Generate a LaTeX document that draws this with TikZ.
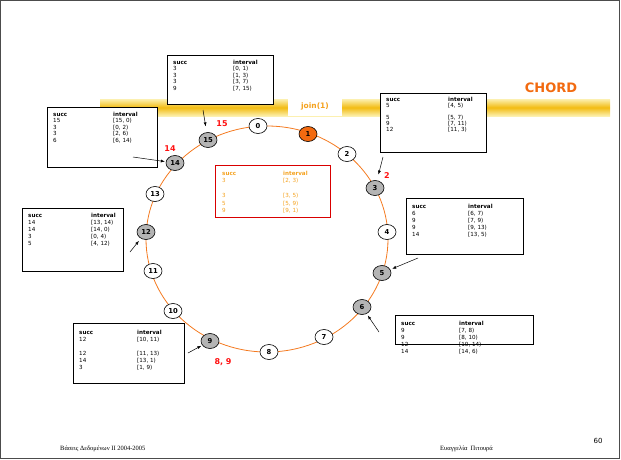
\documentclass[tikz,border=0pt]{standalone}
\usepackage{fontspec}
\setmainfont{Liberation Serif}
\newfontfamily\comic{DejaVu Sans}
\usetikzlibrary{arrows.meta, shapes.geometric}
\definecolor{cRing}{HTML}{F47A20}
\definecolor{cOrg}{HTML}{F26A10}
\definecolor{cAmb}{HTML}{F5A21E}
\definecolor{cRed}{HTML}{FF1010}
\definecolor{cGry}{HTML}{B4B4B4}
\definecolor{cYel}{HTML}{F2BC12}
\definecolor{cYelL}{HTML}{FCF0B0}
% finger table: column width, line height, rows
\newcommand{\ftab}[3]{{\comic\fontsize{5.6}{#2}\selectfont
  \begin{tabular}{@{}p{#1}@{}l@{}}\textbf{succ} & \textbf{interval}\\ #3\end{tabular}}}
\tikzset{
  slot/.style={ellipse, draw, line width=0.6pt, fill=white, minimum width=18pt,
               minimum height=15pt, inner sep=0pt, font=\comic\bfseries\fontsize{6.8}{7}\selectfont},
  live/.style={slot, fill=cGry},
  newbie/.style={slot, fill=cOrg},
  ftbox/.style={draw, line width=0.7pt, fill=white, inner sep=0pt, anchor=north west},
  ftxt/.style={inner sep=0pt, anchor=north west, align=left},
  ptr/.style={-{Latex[length=4pt,width=3pt]}, line width=0.5pt},
  rlab/.style={text=cRed, font=\comic\bfseries\fontsize{8}{9}\selectfont},
  foot/.style={font=\fontsize{6.5}{7}\selectfont, inner sep=0pt},
}

\begin{document}
\begin{tikzpicture}[x=1pt, y=-1pt]
  \useasboundingbox (0,0) rectangle (621,459);
  \draw[line width=0.6pt, black!70] (0.5,0.5) rectangle (619.5,458.5);

  % ---- title stripe
  \shade[top color=cYelL, bottom color=cYelL, middle color=cYel] (100,99) rectangle (610,116);
  \node[fill=white, text=cAmb, font=\comic\bfseries\fontsize{7.5}{8}\selectfont,
        minimum width=54pt, minimum height=20pt] (join) at (315,106) {join(1)};
  \node[text=cOrg, font=\comic\bfseries\fontsize{13}{14}\selectfont] (title) at (551,88) {CHORD};

  % ---- the ring
  \draw[cRing, line width=0.8pt] (267,239) ellipse [x radius=121, y radius=113];
  \node[slot]   (n0)  at (258,126) {0};
  \node[newbie] (n1)  at (308,134) {1};
  \node[slot]   (n2)  at (347,154) {2};
  \node[live]   (n3)  at (375,188) {3};
  \node[slot]   (n4)  at (387,232) {4};
  \node[live]   (n5)  at (382,273) {5};
  \node[live]   (n6)  at (362,307) {6};
  \node[slot]   (n7)  at (324,337) {7};
  \node[slot]   (n8)  at (269,352) {8};
  \node[live]   (n9)  at (210,341) {9};
  \node[slot]   (n10) at (173,311) {10};
  \node[slot]   (n11) at (153,271) {11};
  \node[live]   (n12) at (146,232) {12};
  \node[slot]   (n13) at (155,194) {13};
  \node[live]   (n14) at (175,163) {14};
  \node[live]   (n15) at (208,140) {15};

  \node[rlab] (l15) at (222,124) {15};
  \node[rlab] (l14) at (170,149) {14};
  \node[rlab] (l2)  at (387,176) {2};
  \node[rlab] (l89) at (223,362) {8, 9};

  % ---- finger tables
  \node[ftbox, minimum width=106pt, minimum height=49pt] (bA) at (167,55) {};
  \node[ftxt] (tA) at ([shift={(6pt,-4.5pt)}]bA.north west)
       {\ftab{60pt}{6.5}{3 & [0, 1)\\ 3 & [1, 3)\\ 3 & [3, 7)\\ 9 & [7, 15)}};

  \node[ftbox, minimum width=106pt, minimum height=59pt] (bB) at (380,93) {};
  \node[ftxt] (tB) at ([shift={(6pt,-4pt)}]bB.north west)
       {\ftab{62pt}{5.8}{5 & [4, 5)\\ & \\ 5 & [5, 7)\\ 9 & [7, 11)\\ 12 & [11, 3)}};

  \node[ftbox, minimum width=110pt, minimum height=60pt] (bC) at (47,107) {};
  \node[ftxt] (tC) at ([shift={(6pt,-4.5pt)}]bC.north west)
       {\ftab{60pt}{6.5}{15 & [15, 0)\\ 3 & [0, 2)\\ 3 & [2, 6)\\ 6 & [6, 14)}};

  \node[ftbox, draw=red!85!black, line width=0.9pt, minimum width=115pt, minimum height=52pt] (bD) at (215,165) {};
  \node[ftxt, text=cAmb] (tD) at ([shift={(7pt,-5pt)}]bD.north west)
       {\ftab{61pt}{7.5}{3 & [2, 3)\\ & \\ 3 & [3, 5)\\ 5 & [5, 9)\\ 9 & [9, 1)}};

  \node[ftbox, minimum width=101pt, minimum height=63pt] (bE) at (22,208) {};
  \node[ftxt] (tE) at ([shift={(6pt,-4pt)}]bE.north west)
       {\ftab{63pt}{7}{14 & [13, 14)\\ 14 & [14, 0)\\ 3 & [0, 4)\\ 5 & [4, 12)}};

  \node[ftbox, minimum width=117pt, minimum height=56pt] (bF) at (406,198) {};
  \node[ftxt] (tF) at ([shift={(6pt,-5pt)}]bF.north west)
       {\ftab{56pt}{7}{6 & [6, 7)\\ 9 & [7, 9)\\ 9 & [9, 13)\\ 14 & [13, 5)}};

  \node[ftbox, minimum width=138pt, minimum height=29pt] (bG) at (395,315) {};
  \node[ftxt] (tG) at ([shift={(6pt,-5pt)}]bG.north west)
       {\ftab{58pt}{7}{9 & [7, 8)\\ 9 & [8, 10)\\ 12 & [10, 14)\\ 14 & [14, 6)}};

  \node[ftbox, minimum width=111pt, minimum height=60pt] (bH) at (73,323) {};
  \node[ftxt] (tH) at ([shift={(6pt,-6pt)}]bH.north west)
       {\ftab{58pt}{7}{12 & [10, 11)\\ & \\ 12 & [11, 13)\\ 14 & [13, 1)\\ 3 & [1, 9)}};

  % ---- pointers from tables to their nodes
  \coordinate (pA) at (203,110);
  \coordinate (pC) at (133,157);
  \coordinate (pB) at (383,157);
  \coordinate (pE) at (130,252);
  \coordinate (pF) at (418,258);
  \coordinate (pG) at (379,332);
  \coordinate (pH) at (188,353);
  \draw[ptr, shorten >=6pt] (pA) -- (n15);
  \draw[ptr, shorten >=1pt] (pC) -- (n14);
  \draw[ptr, shorten >=6pt] (pB) -- (n3);
  \draw[ptr, shorten >=3pt] (pE) -- (n12);
  \draw[ptr, shorten >=2pt] (pF) -- (n5);
  \draw[ptr, shorten >=2pt] (pG) -- (n6);
  \draw[ptr, shorten >=1pt] (pH) -- (n9);

  % ---- footer
  \node[foot, anchor=west] (course) at (60,449) {Βάσεις Δεδομένων ΙΙ 2004-2005};
  \node[foot, anchor=west] (author) at (440,449) {Ευαγγελία\ \ Πιτουρά};
  \node[font=\comic\fontsize{7}{8}\selectfont] (page) at (598,441) {60};
\end{tikzpicture}
\end{document}
